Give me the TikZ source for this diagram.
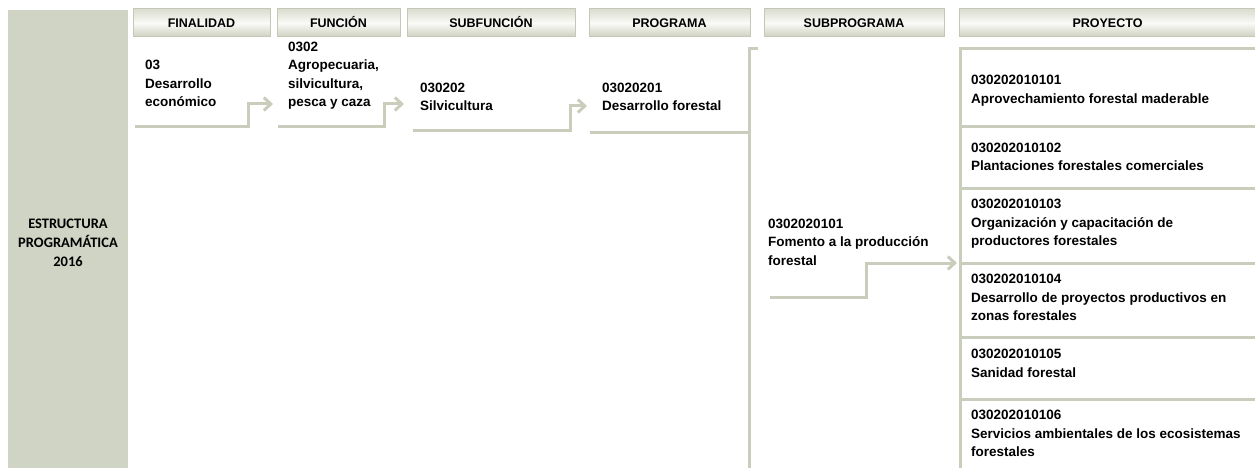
\documentclass[tikz,border=0pt]{standalone}
\usepackage{fontspec}
\setmainfont{Liberation Sans}
\newfontfamily\calfont{Carlito}
\usetikzlibrary{arrows.meta}
\definecolor{colgray}{HTML}{D0D4C4}
\definecolor{lingray}{HTML}{C9CDBB}
\definecolor{hdedge}{HTML}{C4C8B6}
\definecolor{hdtop}{HTML}{DADDCF}
\definecolor{hdmid}{HTML}{FAFAF7}
\definecolor{hdbot}{HTML}{CCD0BF}

\begin{document}
\begin{tikzpicture}[x=1pt,y=-1pt,
  hdr/.style = {draw=hdedge, line width=1pt, top color=hdtop, bottom color=hdbot, middle color=hdmid, minimum height=28pt, inner sep=0pt, text height=9pt, text depth=0pt, font=\fontsize{12.5}{15}\selectfont\bfseries},
  txt/.style = {anchor=north west, inner sep=0pt, align=left, font=\fontsize{13.5}{18.5}\selectfont\bfseries},
  conn/.style = {draw=lingray, line width=3pt},
  tip/.style = {conn, -{Straight Barb[length=7pt,width=13pt]}}]
\useasboundingbox (0,0) rectangle (1255,468);
\fill[colgray] (8,10) rectangle (128,468);
\node[anchor=north, inner sep=0pt, align=center, font=\calfont\fontsize{14.5}{19}\selectfont\bfseries] (estr) at (68,214.5) {\strut ESTRUCTURA\\PROGRAMÁTICA\\2016};
% headers
\node[hdr, minimum width=137pt] (fin) at (201.5,23) {FINALIDAD};
\node[hdr, minimum width=123pt] (fun) at (338.5,23) {FUNCIÓN};
\node[hdr, minimum width=168pt] (subfun) at (491,23) {SUBFUNCIÓN};
\node[hdr, minimum width=161pt] (prog) at (669.5,23) {PROGRAMA};
\node[hdr, minimum width=180pt] (subprog) at (854,23) {SUBPROGRAMA};
\node[hdr, minimum width=297pt] (proy) at (1107.5,23) {PROYECTO};
% texts
\node[txt] (t03) at (145,56.5) {\strut 03\\Desarrollo\\económico};
\node[txt] (t0302) at (288,38) {\strut 0302\\Agropecuaria,\\silvicultura,\\pesca y caza};
\node[txt] (t030202) at (420,79) {\strut 030202\\Silvicultura};
\node[txt] (t03020201) at (602,79) {\strut 03020201\\Desarrollo forestal};
\node[txt] (t0302020101) at (768,215) {\strut 0302020101\\Fomento a la producción\\forestal};
\node[txt] (p1) at (971,71.5) {\strut 030202010101\\Aprovechamiento forestal maderable};
\node[txt] (p2) at (971,139) {\strut 030202010102\\Plantaciones forestales comerciales};
\node[txt] (p3) at (971,195.5) {\strut 030202010103\\Organización y capacitación de\\productores forestales};
\node[txt] (p4) at (971,270.5) {\strut 030202010104\\Desarrollo de proyectos productivos en\\zonas forestales};
\node[txt] (p5) at (971,345.5) {\strut 030202010105\\Sanidad forestal};
\node[txt] (p6) at (971,406.5) {\strut 030202010106\\Servicios ambientales de los ecosistemas\\forestales};
% connector points
\coordinate (a1) at (135,127);
\coordinate (a1k) at (248,104);
\coordinate (a1t) at (273,104);
\coordinate (a2) at (278,127);
\coordinate (a2k) at (384,104);
\coordinate (a2t) at (404,104);
\coordinate (a3) at (413,131);
\coordinate (a3k) at (570,106);
\coordinate (a3t) at (587,106);
\coordinate (a4) at (590,133);
\coordinate (br) at (749,133);
\coordinate (brtop) at (758,49);
\coordinate (brbot) at (749,468);
\coordinate (a5) at (770,297);
\coordinate (a5k) at (866,263);
\coordinate (a5t) at (957,263);
\coordinate (bxtop) at (1255,49);
\coordinate (bxbot) at (960,468);
% connectors
\draw[tip] (a1) -| (a1k) -- (a1t);
\draw[tip] (a2) -| (a2k) -- (a2t);
\draw[tip] (a3) -| (a3k) -- (a3t);
\draw[conn] (a4) -- (br);
\draw[conn] (brtop) -| (brbot);
\draw[tip] (a5) -| (a5k) -- (a5t);
\draw[conn] (bxtop) -| (bxbot);
\draw[conn] (960,127) -- (1255,127);
\draw[conn] (960,188) -- (1255,188);
\draw[conn] (960,263) -- (1255,263);
\draw[conn] (960,337) -- (1255,337);
\draw[conn] (960,399) -- (1255,399);
\end{tikzpicture}
\end{document}
